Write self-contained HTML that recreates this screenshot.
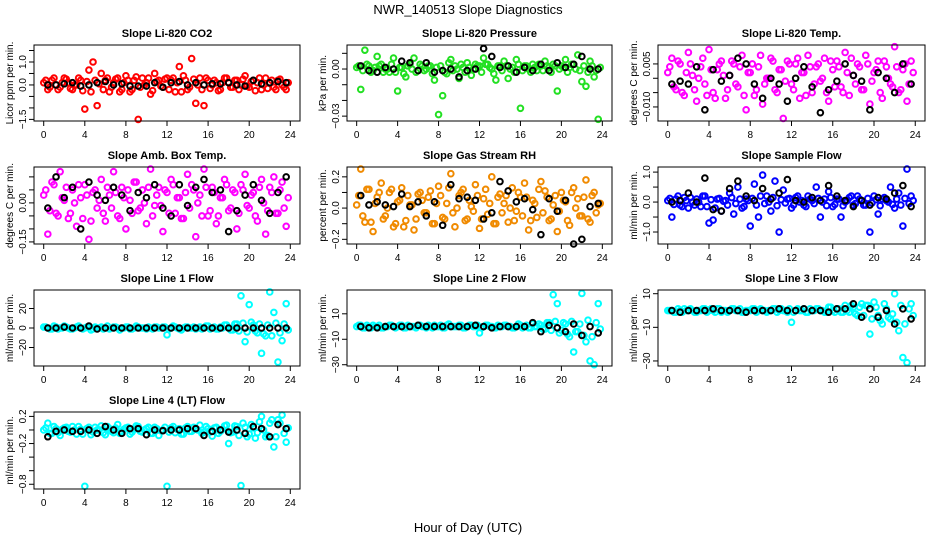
<!DOCTYPE html>
<html><head><meta charset="utf-8">
<style>
body{margin:0;background:#fff;}
svg{display:block;font-family:"Liberation Sans",Arial,sans-serif;}
</style></head>
<body>
<svg id="c" width="936" height="540" viewBox="0 0 936 540" xmlns="http://www.w3.org/2000/svg">
<text x="468" y="14" text-anchor="middle" font-size="13">NWR_140513  Slope Diagnostics</text>
<text x="468" y="532" text-anchor="middle" font-size="13">Hour of Day (UTC)</text>
</svg>
<script>
// shared hour grids
const hoursColor = [];
for (let i = 0; i < 60; i++) hoursColor.push(+(i * 0.4).toFixed(2));
const hoursBand = [];
for (let i = 0; i < 60; i++) hoursBand.push(+(0.2 + i * 0.4).toFixed(2));
const hoursBlack = [];
for (let i = 0; i < 30; i++) hoursBlack.push(+(0.4 + i * 0.8).toFixed(2));
const xTicks = [0, 4, 8, 12, 16, 20, 24];

const co2Color = [0.1,-0.2,0.2,0.0,-0.1,0.3,0.1,-0.2,0.0,0.2,-1.05,0.65,1.0,-0.9,0.5,0.2,-0.3,0.1,0.3,-0.2,0.4,-0.3,0.2,-1.5,0.3,0.1,-0.4,0.5,0.2,-0.1,0.3,0.2,-0.3,0.8,0.4,-0.2,1.15,-0.8,0.3,-0.9,0.2,0.0,0.1,-0.2,0.3,0.1,-0.1,0.2,0.0,0.4,-0.1,0.2,0.1,-0.2,0.3,0.1,-0.1,0.2,0.0,-0.2];
const co2Band = [0.2,-0.1,0.3,-0.2,0.1,0.25,-0.15,0.0,0.3,-0.25,0.15,-0.3,0.2,0.05,-0.2,0.3,-0.1,0.25,-0.3,0.1,0.2,-0.2,0.35,-0.1,0.0,0.3,-0.25,0.15,-0.05,0.25,-0.2,0.3,0.1,-0.3,0.2,-0.1,0.25,0.0,-0.2,0.3,-0.15,0.2,-0.25,0.1,0.3,-0.1,0.2,-0.2,0.25,-0.05,0.15,-0.25,0.3,0.0,-0.15,0.2,-0.2,0.25,-0.1,0.1];
const co2Black = [0.0,0.0,0.05,0.1,-0.05,0.0,0.1,0.15,0.0,0.05,-0.05,-0.05,-0.05,0.1,-0.1,0.1,0.15,0.0,0.1,0.0,0.05,0.05,0.1,0.0,-0.05,0.2,0.05,0.1,0.15,0.1];

const presColor = [0.001,-0.013,0.012,0.002,-0.001,0.008,0.003,0.0,-0.002,0.007,-0.014,0.001,-0.005,0.003,0.007,-0.001,0.002,0.0,0.002,-0.007,-0.029,-0.017,-0.003,0.006,0.002,-0.006,0.001,0.004,-0.004,0.003,0.002,0.007,0.003,0.0,-0.007,0.002,0.005,-0.006,0.001,0.006,-0.025,0.002,0.0,0.003,-0.001,0.002,0.005,0.001,0.003,-0.014,0.002,0.006,0.001,0.003,0.009,-0.008,-0.011,0.005,-0.005,-0.032];
const presBand = [0.002,-0.001,0.003,-0.002,0.001,0.002,-0.002,0.0,0.003,-0.002,0.001,-0.003,0.002,0.0,-0.002,0.003,-0.001,0.002,-0.003,0.001,0.002,-0.002,0.004,-0.001,0.0,0.003,-0.002,0.001,0.0,0.002,-0.002,0.003,0.001,-0.003,0.002,-0.001,0.002,0.0,-0.002,0.003,-0.001,0.002,-0.002,0.001,0.003,-0.001,0.002,-0.002,0.002,0.0,0.001,-0.002,0.003,0.0,-0.001,0.002,-0.002,0.002,-0.001,0.001];
const presBlack = [0.002,-0.001,-0.002,0.001,0.0,0.005,0.004,-0.001,0.004,-0.002,-0.001,0.0,-0.005,-0.001,0.0,0.013,0.008,0.001,0.002,-0.002,0.001,-0.001,0.003,-0.001,0.004,0.001,0.003,0.008,0.0,0.0];

const tempColor = [0.002,0.007,-0.004,0.005,-0.006,0.009,0.001,-0.008,0.004,-0.002,0.010,-0.005,0.003,0.006,-0.007,0.001,0.005,-0.003,0.008,-0.011,0.002,-0.006,0.004,-0.009,0.000,0.007,-0.004,0.003,-0.014,0.006,-0.002,0.005,-0.007,0.002,0.008,-0.005,0.004,-0.001,0.007,-0.008,0.003,0.006,-0.003,0.009,-0.006,0.001,0.005,-0.004,0.008,-0.009,0.002,0.006,-0.007,0.004,-0.002,0.011,-0.005,0.003,-0.008,0.006];
const tempBand = [0.004,-0.003,0.006,-0.005,0.002,0.005,-0.004,0.0,0.007,-0.006,0.003,-0.007,0.005,0.001,-0.004,0.006,-0.002,0.004,-0.006,0.002,0.005,-0.004,0.008,-0.002,0.0,0.006,-0.005,0.003,-0.001,0.005,-0.004,0.007,0.002,-0.006,0.004,-0.002,0.005,0.0,-0.005,0.006,-0.003,0.004,-0.005,0.002,0.007,-0.002,0.004,-0.004,0.005,-0.001,0.003,-0.005,0.006,0.0,-0.003,0.004,-0.004,0.005,-0.002,0.002];
const tempBlack = [-0.002,-0.001,-0.002,0.004,-0.011,0.003,-0.001,0.001,0.007,0.005,-0.002,-0.007,0.000,-0.002,-0.008,0.000,0.004,-0.003,-0.012,-0.004,-0.001,0.005,0.001,-0.001,-0.011,0.002,0.000,-0.005,0.005,-0.002];

const ambColor = [0.03,-0.12,0.08,-0.04,0.12,0.01,-0.06,0.05,-0.09,0.02,0.07,-0.14,0.04,-0.02,0.09,-0.07,0.03,0.12,-0.05,0.06,-0.10,0.01,0.08,-0.03,0.05,-0.08,0.13,-0.01,0.06,-0.11,0.04,0.09,-0.04,0.02,-0.06,0.11,0.07,-0.13,0.03,0.13,-0.05,0.06,-0.08,0.02,0.09,-0.03,0.05,-0.10,0.07,0.11,-0.02,0.04,-0.07,0.09,-0.12,0.06,0.10,-0.04,0.08,-0.09];
const ambBand = [0.05,-0.03,0.07,-0.05,0.02,0.06,-0.04,0.0,0.07,-0.06,0.03,-0.07,0.05,0.01,-0.04,0.06,-0.02,0.04,-0.06,0.02,0.05,-0.04,0.08,-0.02,0.0,0.06,-0.05,0.03,-0.01,0.05,-0.04,0.07,0.02,-0.06,0.04,-0.02,0.05,0.0,-0.05,0.06,-0.03,0.04,-0.05,0.02,0.07,-0.02,0.04,-0.04,0.05,-0.01,0.03,-0.05,0.06,0.0,-0.03,0.04,-0.04,0.05,-0.02,0.02];
const ambBlack = [-0.02,0.10,0.02,0.06,-0.10,0.08,0.03,0.01,0.06,0.03,-0.03,0.04,0.02,0.07,-0.02,-0.05,0.07,-0.01,0.06,0.09,0.04,0.05,-0.11,-0.03,0.03,0.07,0.01,-0.04,0.04,0.10];

const rhColor = [0.02,0.25,-0.09,0.12,-0.15,0.07,0.16,-0.05,0.10,-0.12,0.04,0.13,-0.08,0.02,-0.14,0.09,0.05,-0.03,0.11,-0.10,0.14,-0.06,0.03,0.22,-0.12,0.08,0.12,-0.07,0.01,0.15,-0.13,0.06,-0.04,0.20,-0.10,0.09,0.03,-0.09,0.13,-0.02,0.07,0.16,-0.14,0.05,-0.06,0.17,0.11,-0.08,0.02,-0.15,0.10,0.04,-0.11,0.13,0.06,-0.05,0.18,-0.09,0.10,0.02];
const rhBand = [0.08,-0.05,0.12,-0.09,0.03,0.10,-0.07,0.0,0.12,-0.10,0.05,-0.12,0.08,0.02,-0.07,0.10,-0.03,0.07,-0.10,0.03,0.08,-0.07,0.13,-0.03,0.0,0.10,-0.08,0.05,-0.02,0.08,-0.07,0.12,0.03,-0.10,0.07,-0.03,0.08,0.0,-0.08,0.10,-0.05,0.07,-0.08,0.03,0.12,-0.03,0.07,-0.07,0.08,-0.02,0.05,-0.08,0.10,0.0,-0.05,0.07,-0.07,0.08,-0.03,0.03];
const rhBlack = [0.08,0.02,0.04,0.02,0.01,0.09,0.01,0.04,-0.05,0.04,-0.11,0.15,0.06,0.07,0.05,-0.07,-0.03,0.17,0.11,0.04,0.06,-0.01,-0.17,0.06,-0.02,0.05,-0.23,-0.20,0.01,0.03];

const flowColor = [0.05,-0.5,0.1,-0.1,0.15,-0.2,0.0,0.1,-0.15,0.2,-0.7,-0.6,0.1,-0.3,0.05,0.3,-0.4,0.5,-0.2,0.1,-0.8,0.6,-0.5,0.9,0.2,-0.3,0.7,-1.0,0.4,0.1,-0.2,0.15,0.0,-0.1,0.2,0.05,0.5,-0.5,0.1,0.35,-0.15,0.1,-0.5,0.0,0.15,-0.1,0.2,0.05,-0.1,-1.0,0.2,-0.4,0.1,0.05,0.5,-0.2,0.3,-0.8,1.1,0.2];
const flowBand = [0.12,-0.08,0.2,-0.15,0.05,0.15,-0.1,0.0,0.2,-0.15,0.08,-0.2,0.12,0.03,-0.1,0.15,-0.05,0.1,-0.15,0.05,0.12,-0.1,0.2,-0.05,0.0,0.15,-0.12,0.08,-0.03,0.12,-0.1,0.2,0.05,-0.15,0.1,-0.05,0.12,0.0,-0.12,0.15,-0.08,0.1,-0.12,0.05,0.2,-0.05,0.1,-0.1,0.12,-0.03,0.08,-0.12,0.15,0.0,-0.08,0.1,-0.1,0.12,-0.05,0.05];
const flowBlack = [0.0,0.05,0.3,0.0,0.8,-0.25,-0.3,0.45,0.7,0.2,0.05,0.45,0.1,0.3,0.75,0.05,0.0,0.15,0.05,0.55,0.2,0.05,-0.15,0.05,-0.1,0.15,0.1,0.3,0.55,-0.15];

const line1Color = [1,0,-1,1,0,2,0,-1,1,0,0,1,-1,0,1,0,-1,1,0,0,1,-1,0,1,0,-1,0,1,0,1,-7,0,1,-1,0,1,0,-1,1,0,2,0,-1,1,3,0,-2,4,33,-14,24,3,-5,-26,-8,37,16,-35,-13,25];
const line1Band = [1,-1,2,-1,0,1,-1,0,2,-1,1,-2,1,0,-1,2,0,1,-2,0,1,-1,2,0,0,1,-1,1,0,1,-1,2,0,-2,1,0,1,0,-1,2,-1,1,-1,0,3,-2,4,-3,5,-4,6,-3,4,-6,3,-8,5,-5,4,-2];
const line1Black = [0,0,1,0,0,2,-1,0,0,0,0,0,0,0,0,0,0,0,0,0,0,0,0,0,0,0,0,0,0,0];

const line2Color = [0,1,-1,0,1,0,-1,0,1,0,0,1,-1,0,0,1,0,-1,0,1,0,-1,1,0,0,1,-1,0,1,0,-5,0,1,0,-1,0,1,0,-1,0,1,0,-1,2,0,1,-2,3,25,18,-3,2,-8,-20,-4,26,-12,-27,-30,18];
const line2Band = [1,-1,1,-1,0,1,-1,0,1,-1,1,-1,1,0,-1,1,0,1,-1,0,1,-1,2,0,0,1,-1,1,0,1,-1,1,0,-1,1,0,1,0,-1,2,-1,1,-1,0,2,-2,3,-3,4,-5,3,-6,4,-4,2,-7,5,-8,3,-2];
const line2Black = [0,-1,-1,0,0,0,0,1,0,0,0,0,0,0,1,0,-1,0,0,0,0,3,-4,1,-1,-4,2,-7,0,-5];

const line3Color = [0,0,-1,0,1,0,0,-1,0,1,0,0,1,-1,0,0,1,0,-1,0,0,1,0,0,-1,0,1,0,0,-1,-7,0,0,1,-1,0,1,0,-1,2,0,1,-1,3,-1,2,-3,4,3,-14,5,-3,-8,1,-5,10,-12,-28,-31,4];
const line3Band = [0,-1,1,-1,0,1,-1,0,1,-1,1,-1,1,0,-1,1,0,1,-1,0,1,-1,1,0,0,1,-1,1,0,1,-1,1,0,-1,1,0,1,0,-1,2,-1,1,-1,0,3,-2,2,-3,3,-5,2,-6,4,-4,-2,-7,3,-8,1,-3];
const line3Black = [0,-1,0,0,0,1,0,0,0,-1,0,0,0,1,0,0,1,0,0,-1,1,1,4,-4,1,-4,0,-8,1,-5];

const line4Color = [0.0,0.1,-0.05,0.02,-0.08,0.03,-0.02,0.05,-0.06,0.01,-0.83,0.04,-0.03,0.0,0.06,-0.07,0.02,-0.04,0.08,-0.02,0.03,-0.06,0.01,0.05,-0.03,0.02,-0.05,0.04,-0.08,0.0,-0.83,0.03,-0.04,0.02,-0.06,0.05,-0.02,0.01,0.07,-0.03,0.02,-0.09,0.04,-0.02,0.06,-0.2,-0.03,0.05,-0.82,0.04,-0.06,0.03,-0.04,0.2,-0.1,0.1,-0.25,0.15,0.22,-0.18];
const line4Band = [0.03,-0.05,0.05,-0.04,0.01,0.04,-0.03,0.0,0.05,-0.06,0.02,-0.07,0.04,0.0,-0.04,0.05,-0.02,0.03,-0.05,0.01,0.04,-0.03,0.06,-0.02,0.0,0.04,-0.05,0.02,-0.01,0.04,-0.03,0.05,0.01,-0.06,0.03,-0.02,0.04,0.0,-0.05,0.05,-0.03,0.03,-0.05,0.01,0.07,-0.04,0.06,-0.08,0.1,-0.1,0.08,-0.12,0.12,0.0,-0.08,0.15,-0.1,0.1,-0.05,0.03];
const line4Black = [-0.1,-0.02,0.0,-0.02,-0.02,0.0,-0.05,0.05,0.0,-0.05,0.02,0.02,-0.07,0.0,-0.01,0.0,0.0,0.02,0.02,-0.08,-0.02,0.0,-0.03,0.0,-0.05,0.05,0.02,-0.1,0.08,0.02];

const co2Ticks = [-1.5,-1,-0.5,0,0.5,1,1.5];
const co2Labels = ["-1.5","","","0.0","","1.0",""];
const presTicks = [-0.03,-0.02,-0.01,0,0.01];
const presLabels = ["-0.03","","","0.00",""];
const tempTicks = [-0.01,-0.005,0,0.005];
const tempLabels = ["-0.010","","","0.005"];
const ambTicks = [-0.15,-0.1,-0.05,0,0.05,0.1];
const ambLabels = ["-0.15","","","0.00","",""];
const rhTicks = [-0.2,-0.1,0,0.1,0.2];
const rhLabels = ["-0.2","","0.0","","0.2"];
const flowTicks = [-1,-0.5,0,0.5,1];
const flowLabels = ["-1.0","","0.0","","1.0"];
const line1Ticks = [-20,0,20];
const line1Labels = ["-20","0","20"];
const line2Ticks = [-30,-10,10];
const line2Labels = ["-30","-10","10"];
const line3Ticks = [-30,-10,10];
const line3Labels = ["-30","-10","10"];
const line4Ticks = [-0.8,-0.6,-0.4,-0.2,0,0.2];
const line4Labels = ["-0.8","","","-0.2","","0.2"];

const cols = [{l:34,r:300},{l:347,r:612},{l:658,r:925}];
const rows = [{t:45,b:121},{t:167,b:244},{t:290,b:366},{t:412,b:489}];

const panels = [
 {id:'co2',title:'Slope Li-820 CO2',ylab:'Licor ppm per min.',c:0,r:0,ymin:-1.57,ymax:1.74,color:'#ff0000',col:co2Color,band:co2Band,blk:co2Black,ticks:co2Ticks,labels:co2Labels},
 {id:'pressure',title:'Slope Li-820 Pressure',ylab:'kPa per min.',c:1,r:0,ymin:-0.0331,ymax:0.0153,color:'#22e022',col:presColor,band:presBand,blk:presBlack,ticks:presTicks,labels:presLabels},
 {id:'li820-temp',title:'Slope Li-820 Temp.',ylab:'degrees C per min.',c:2,r:0,ymin:-0.0149,ymax:0.0116,color:'#ff00ff',col:tempColor,band:tempBand,blk:tempBlack,ticks:tempTicks,labels:tempLabels},
 {id:'amb-box-temp',title:'Slope Amb. Box Temp.',ylab:'degrees C per min.',c:0,r:1,ymin:-0.158,ymax:0.138,color:'#ff00ff',col:ambColor,band:ambBand,blk:ambBlack,ticks:ambTicks,labels:ambLabels},
 {id:'gas-stream-rh',title:'Slope Gas Stream RH',ylab:'percent per min.',c:1,r:1,ymin:-0.23,ymax:0.263,color:'#f08a00',col:rhColor,band:rhBand,blk:rhBlack,ticks:rhTicks,labels:rhLabels},
 {id:'sample-flow',title:'Slope Sample Flow',ylab:'ml/min per min.',c:2,r:1,ymin:-1.4,ymax:1.17,color:'#0000ff',col:flowColor,band:flowBand,blk:flowBlack,ticks:flowTicks,labels:flowLabels},
 {id:'line1-flow',title:'Slope Line 1 Flow',ylab:'ml/min per min.',c:0,r:2,ymin:-39,ymax:39,color:'#00ffff',col:line1Color,band:line1Band,blk:line1Black,ticks:line1Ticks,labels:line1Labels},
 {id:'line2-flow',title:'Slope Line 2 Flow',ylab:'ml/min per min.',c:1,r:2,ymin:-31,ymax:28.7,color:'#00ffff',col:line2Color,band:line2Band,blk:line2Black,ticks:line2Ticks,labels:line2Labels},
 {id:'line3-flow',title:'Slope Line 3 Flow',ylab:'ml/min per min.',c:2,r:2,ymin:-33,ymax:12.2,color:'#00ffff',col:line3Color,band:line3Band,blk:line3Black,ticks:line3Ticks,labels:line3Labels},
 {id:'line4-flow',title:'Slope Line 4 (LT) Flow',ylab:'ml/min per min.',c:0,r:3,ymin:-0.87,ymax:0.265,color:'#00ffff',col:line4Color,band:line4Band,blk:line4Black,ticks:line4Ticks,labels:line4Labels}
];

const svg = document.getElementById('c');
const NS = 'http://www.w3.org/2000/svg';
function mk(tag, attrs, parent){
  const e = document.createElementNS(NS, tag);
  for (const k in attrs) e.setAttribute(k, attrs[k]);
  parent.appendChild(e);
  return e;
}

panels.forEach(p => {
  const L = cols[p.c].l, R = cols[p.c].r, T = rows[p.r].t, B = rows[p.r].b;
  const w = R - L;
  const x0 = L + w * 0.0365, x1 = R - w * 0.0365;
  const xs = h => x0 + (h / 24) * (x1 - x0);
  const ys = v => B - (v - p.ymin) / (p.ymax - p.ymin) * (B - T);

  const g = mk('g', {}, svg);
  
  

  const title = mk('text', {x:(L+R)/2, y:T-8, 'text-anchor':'middle', 'font-size':11, 'font-weight':'bold'}, g);
  title.textContent = p.title;
  
  

  const yl = mk('text', {x:0, y:0, 'text-anchor':'middle', 'font-size':10, transform:`translate(${L-21},${(T+B)/2}) rotate(-90)`}, g);
  yl.textContent = p.ylab;
  
  

  p.band.forEach((v, i) => {
    const c = mk('circle', {cx:xs(hoursBand[i]), cy:ys(v), r:2.8, fill:'none', stroke:p.color, 'stroke-width':2}, g);
    
    
  });
  p.col.forEach((v, i) => {
    const c = mk('circle', {cx:xs(hoursColor[i]), cy:ys(v), r:2.8, fill:'none', stroke:p.color, 'stroke-width':2}, g);
    
    
  });
  p.blk.forEach((v, i) => {
    const c = mk('circle', {cx:xs(hoursBlack[i]), cy:ys(v), r:2.8, fill:'none', stroke:'#000', 'stroke-width':2}, g);
    
    
  });

  const box = mk('rect', {x:L, y:T, width:w, height:B-T, fill:'none', stroke:'#000', 'stroke-width':1}, g);
  
  

  xTicks.forEach(t => {
    const x = xs(t);
    const tk = mk('line', {x1:x, x2:x, y1:B, y2:B+5, stroke:'#000'}, g);
    
    
    const tl = mk('text', {x:x, y:B+17, 'text-anchor':'middle', 'font-size':10}, g);
    tl.textContent = t;
    
    
  });

  p.ticks.forEach((t, i) => {
    const y = ys(t);
    const tk = mk('line', {x1:L-5, x2:L, y1:y, y2:y, stroke:'#000'}, g);
    
    
    if (p.labels[i]) {
      const tl = mk('text', {x:0, y:0, 'text-anchor':'middle', 'font-size':10, transform:`translate(${L-8},${y}) rotate(-90)`}, g);
      tl.textContent = p.labels[i].replace('-', '\u2212');
      
      
    }
  });
});
</script>
</body></html>
